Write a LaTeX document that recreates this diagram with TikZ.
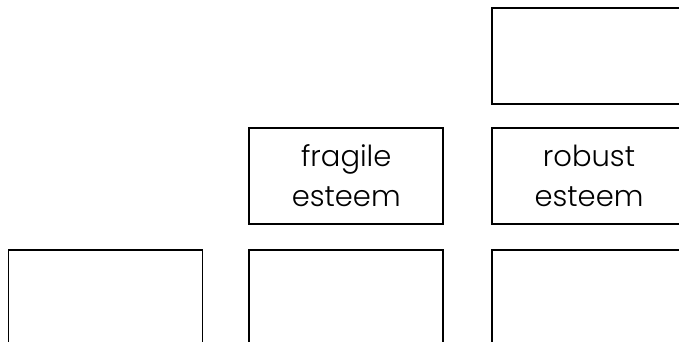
\documentclass[tikz,border=0pt]{standalone}
\usepackage{fontspec}
\setmainfont{Poppins Light}
\usetikzlibrary{positioning}

\begin{document}
\begin{tikzpicture}[x=1pt, y=-1pt, node distance=24pt and 47pt]
    % Define styles
    \tikzstyle{stagebox} = [rectangle, minimum width=194pt, minimum height=96pt, inner sep=0pt, align=center, text centered, draw=black, line width=1.8pt, font=\fontsize{29}{40}\selectfont]

    \useasboundingbox (0,0) rectangle (679,342);

    % Nodes
    \node [stagebox] (robust) at (589,176) {robust\\esteem};
    \node [stagebox, left=of robust] (fragile) {fragile\\esteem};
    \node [stagebox, above=22pt of robust] (top) {};
    \node [stagebox, below=of robust] (bottomright) {};
    \node [stagebox, below=of fragile] (bottommid) {};
    \node [stagebox, left=45pt of bottommid] (bottomleft) {};
\end{tikzpicture}
\end{document}
